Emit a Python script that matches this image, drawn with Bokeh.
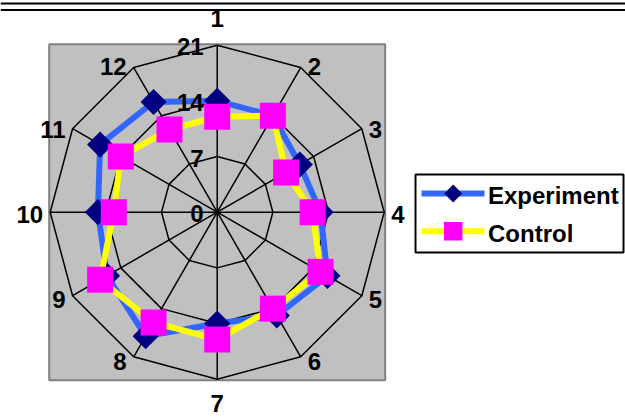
import math

from bokeh.core.properties import value
from bokeh.embed import file_html
from bokeh.models import Range1d
from bokeh.plotting import figure
from bokeh.resources import INLINE

# Radar chart data: twelve categories, two series
categories = ["1", "2", "3", "4", "5", "6", "7", "8", "9", "10", "11", "12"]
experiment = [14, 14, 12, 13, 16, 15, 14, 18, 16, 15, 17, 16]
control = [12, 14, 10, 12, 15, 14, 16, 16, 17, 13, 14, 12]
ring_values = [7, 14, 21]
ring_labels = ["0", "7", "14", "21"]
series_names = ["Experiment", "Control"]

W, H = 625, 419
CX, CY = 216.7, 211.7          # radar centre in page pixels
R_MAX = 21
SCALE = 167.0 / R_MAX          # pixels per value unit

FONT = value("Liberation Sans")


def px(xp):
    """page x pixel -> data x"""
    return (xp - CX) / SCALE


def py(yp):
    """page y pixel (from top) -> data y"""
    return (CY - yp) / SCALE


def polar(r, i):
    a = 2 * math.pi * i / len(categories)
    return r * math.sin(a), r * math.cos(a)


p = figure(
    width=W, height=H,
    x_range=Range1d(px(0), px(W)), y_range=Range1d(py(H), py(0)),
    output_backend="svg", toolbar_location=None,
    min_border=0, outline_line_color=None,
    background_fill_color="white", border_fill_color="white",
)
p.axis.visible = False
p.grid.visible = False

# double rule across the top
for yp in (3.0, 9.5):
    p.line([px(0), px(W)], [py(yp), py(yp)], line_color="black", line_width=2)

# grey plot area
half = 168.0 / SCALE
p.quad(left=[-half], right=[half], bottom=[-half], top=[half],
       fill_color="#C0C0C0", line_color="#808080", line_width=2)

n = len(categories)

# spokes
sx, sy = [], []
for i in range(n):
    x, y = polar(R_MAX, i)
    sx.append([0, x])
    sy.append([0, y])
p.multi_line(sx, sy, line_color="black", line_width=1.5)

# rings
rx, ry = [], []
for rv in ring_values:
    pts = [polar(rv, i) for i in range(n)] + [polar(rv, 0)]
    rx.append([q[0] for q in pts])
    ry.append([q[1] for q in pts])
p.multi_line(rx, ry, line_color="black", line_width=1.5)

# category labels outside each spoke end
for i, lab in enumerate(categories):
    vx, vy = polar(R_MAX, i)
    vxp = CX + vx * SCALE
    vyp = CY - vy * SCALE
    a = 2 * math.pi * i / n
    s, c = math.sin(a), math.cos(a)
    if abs(s) < 0.1:
        tx = vxp
        ty = vyp - 27.0 if c > 0 else vyp + 24.0
        align = "center"
    else:
        align = "left" if s > 0 else "right"
        tx = vxp + (7 if s > 0 else -7)
        ty = vyp + 2 - 3 * c
    p.text(x=[px(tx)], y=[py(ty)], text=[lab],
           text_align=align, text_baseline="middle",
           text_font=FONT, text_font_style="bold", text_font_size="24px",
           text_color="black")


def closed(vals):
    pts = [polar(v, i) for i, v in enumerate(vals)]
    pts.append(pts[0])
    return [q[0] for q in pts], [q[1] for q in pts]


# Experiment series
ex, ey = closed(experiment)
p.line(ex, ey, line_color="#3366FF", line_width=6, line_join="miter")
p.scatter(ex[:-1], ey[:-1], marker="square", size=18.5, angle=math.pi / 4,
          fill_color="#000080", line_color=None)

# Control series
cx_, cy_ = closed(control)
p.line(cx_, cy_, line_color="#FFFF00", line_width=6, line_join="miter")
p.scatter(cx_[:-1], cy_[:-1], marker="square", size=26,
          fill_color="#FF00FF", line_color=None)

# value axis labels along the first spoke, drawn above the series
for k, lab in enumerate(ring_labels):
    rv = 0 if k == 0 else ring_values[k - 1]
    p.text(x=[px(CX - 13.5)], y=[rv + py(CY + 1.5)], text=[lab],
           text_align="right", text_baseline="middle",
           text_font=FONT, text_font_style="bold", text_font_size="24px",
           text_color="black")

# legend box
p.quad(left=[px(415)], right=[px(623)], top=[py(174)], bottom=[py(252)],
       fill_color="white", line_color="black", line_width=2)
leg_rows = [193.0, 230.7]
leg_line = ["#3366FF", "#FFFF00"]
for k, name in enumerate(series_names):
    yy = py(leg_rows[k])
    p.line([px(421), px(484)], [yy, yy], line_color=leg_line[k], line_width=6)
    if k == 0:
        p.scatter([px(452.7)], [yy], marker="square", size=12.7,
                  angle=math.pi / 4, fill_color="#000080", line_color=None)
    else:
        p.scatter([px(452.7)], [yy], marker="square", size=18.5,
                  fill_color="#FF00FF", line_color=None)
    p.text(x=[px(487.5)], y=[py(leg_rows[k] + 2)], text=[name],
           text_align="left", text_baseline="middle",
           text_font=FONT, text_font_style="bold", text_font_size="24px",
           text_color="black")

open("out.html", "w").write(file_html(p, INLINE))
